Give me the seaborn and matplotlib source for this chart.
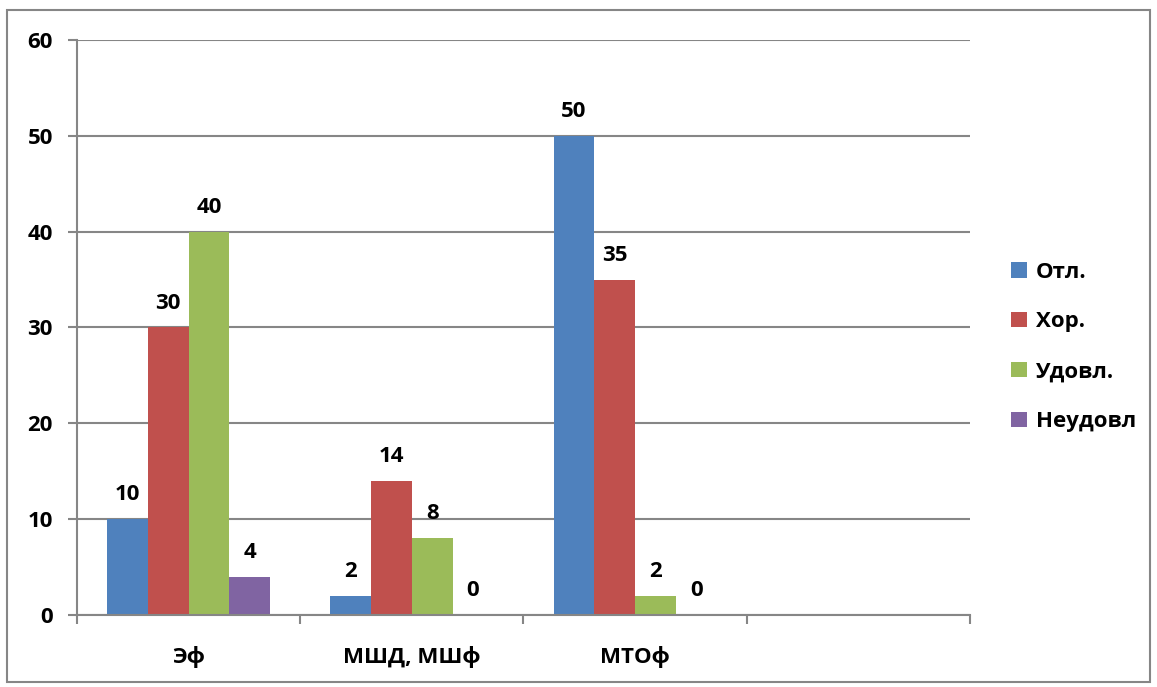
import pandas as pd
import matplotlib.pyplot as plt
import seaborn as sns
from matplotlib.patches import Rectangle

# data
categories = ['Эф', 'МШД, МШф', 'МТОф', '']
grades = ['Отл.', 'Хор.', 'Удовл.', 'Неудовл']
ef = [10, 30, 40, 4]
mshd = [2, 14, 8, 0]
mtof = [50, 35, 2, 0]
colors = ['#4F81BD', '#C0504D', '#9BBB59', '#8064A2']

rows = []
for cat, vals in zip(categories[:3], [ef, mshd, mtof]):
    for g, v in zip(grades, vals):
        rows.append({'cat': cat, 'grade': g, 'value': v})
df = pd.DataFrame(rows)

sns.set_style('white')
plt.rcParams['font.family'] = ['Open Sans', 'DejaVu Sans']
plt.rcParams['font.weight'] = 'bold'
plt.rcParams['text.color'] = 'black'
plt.rcParams['xtick.color'] = 'black'
plt.rcParams['ytick.color'] = 'black'
fs = 16

fig = plt.figure(figsize=(11.57, 6.87), dpi=100)
ax = fig.add_axes([0.0666, 0.1048, 0.7716, 0.837])

sns.barplot(data=df, x='cat', y='value', hue='grade', order=categories,
            hue_order=grades, palette=colors, width=0.73, saturation=1,
            linewidth=0, ax=ax)

for cont in ax.containers:
    ax.bar_label(cont, fmt='%g', padding=10, fontsize=fs, fontweight='bold', color='black')

ax.set_ylim(0, 60)
ax.set_xlim(-0.5, 3.5)
ax.set_yticks(range(0, 61, 10))
ax.yaxis.grid(True, color='#868686', linewidth=1.5)
ax.set_axisbelow(True)
for s in ['top', 'right']:
    ax.spines[s].set_visible(False)
for s in ['left', 'bottom']:
    ax.spines[s].set_color('#868686')
    ax.spines[s].set_linewidth(1.5)

ax.set_xticks(range(4))
ax.set_xticklabels(categories)
ax.set_xticks([-0.5, 0.5, 1.5, 2.5, 3.5], minor=True)
ax.tick_params(axis='x', which='major', length=0, pad=22, labelsize=fs, labelcolor='black')
ax.tick_params(axis='x', which='minor', length=6.5, width=1.5, color='#868686', direction='out')
ax.tick_params(axis='y', length=6.5, width=1.5, color='#868686', direction='out', pad=11,
               labelsize=fs, labelcolor='black')
ax.tick_params(axis='y', left=True)
ax.tick_params(axis='x', which='minor', bottom=True)
for lab in ax.get_xticklabels() + ax.get_yticklabels():
    lab.set_fontweight('bold')
ax.set_xlabel('')
ax.set_ylabel('')

handles, labels = ax.get_legend_handles_labels()
ax.legend_.remove()
leg = fig.legend(handles, labels, loc='center left', bbox_to_anchor=(0.874, 0.495),
                 frameon=False, handlelength=0.7, handleheight=0.7,
                 handletextpad=0.4, labelspacing=1.3, borderaxespad=0, borderpad=0,
                 prop={'weight': 'bold', 'size': fs})
for t in leg.get_texts():
    t.set_color('black')

fig.patches.append(Rectangle((7 / 1157, 1 - 682 / 687), 1143 / 1157, 672 / 687,
                             transform=fig.transFigure, fill=False,
                             edgecolor='#868686', linewidth=1.5))

plt.savefig('out.png', dpi=100)
